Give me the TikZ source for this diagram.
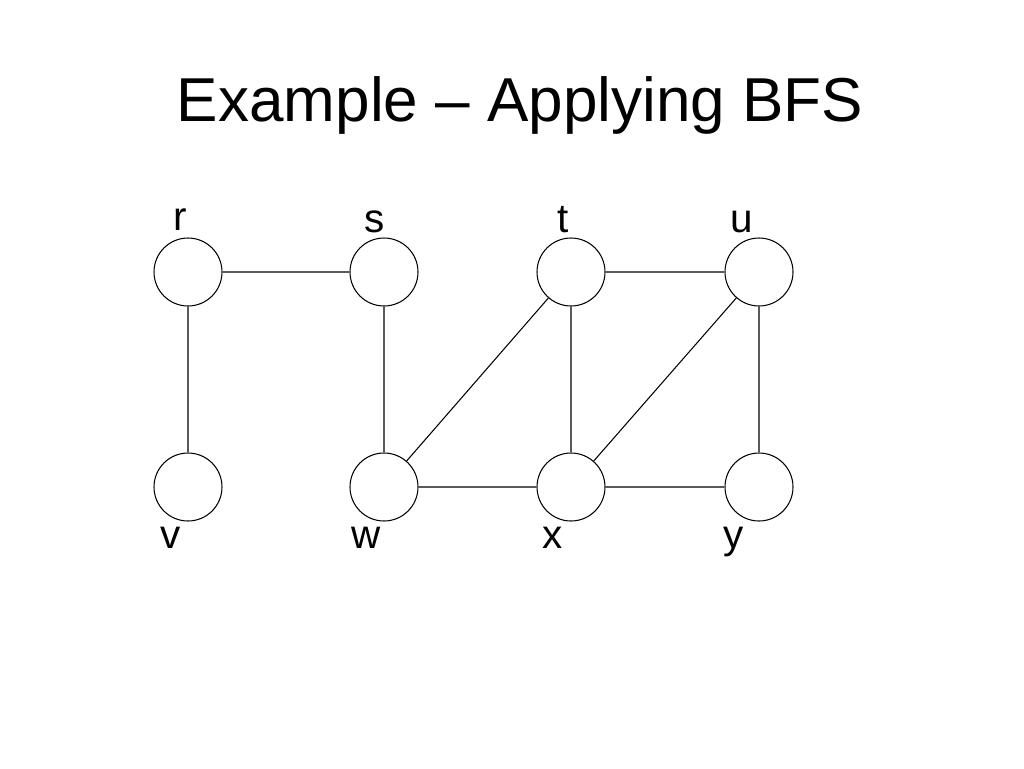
\documentclass[tikz,border=0pt]{standalone}
\usepackage{fontspec}
\setmainfont{Liberation Sans}
\usepackage{tikz}

\begin{document}
\begin{tikzpicture}[
                    x=0.02cm,
                    y=-0.02cm,
                    line width=0.6pt
                ]
                \tikzstyle{vertex}=[circle,draw=black,fill=white,minimum size=1.36cm,inner sep=0pt]
                \tikzstyle{letter}=[anchor=base,inner sep=0pt,font=\fontsize{23}{27}\selectfont]

                \useasboundingbox (0,0) rectangle (1024,768);

                \node[anchor=base,inner sep=0pt,font=\fontsize{35.3}{42}\selectfont] (title) at (520,121) {Example -- Applying BFS};

                \node[vertex] (r) at (188,272) {};
                \node[vertex] (s) at (384,272) {};
                \node[vertex] (t) at (571,272) {};
                \node[vertex] (u) at (759,272) {};
                \node[vertex] (v) at (188,487) {};
                \node[vertex] (w) at (384,487) {};
                \node[vertex] (x) at (571,487) {};
                \node[vertex] (y) at (759,487) {};

                \node[letter] (lr) at (180,230) {r};
                \node[letter] (ls) at (375,232) {s};
                \node[letter] (lt) at (563,232) {t};
                \node[letter] (lu) at (742,232) {u};
                \node[letter] (lv) at (171,548) {v};
                \node[letter] (lw) at (366,548) {w};
                \node[letter] (lx) at (553,548) {x};
                \node[letter] (ly) at (734,548) {y};

                \path[draw]
                (r) -- (s)
                (r) -- (v)
                (s) -- (w)
                (t) -- (u)
                (t) -- (w)
                (t) -- (x)
                (u) -- (x)
                (u) -- (y)
                (w) -- (x)
                (x) -- (y)
                ;

            \end{tikzpicture}
\end{document}
